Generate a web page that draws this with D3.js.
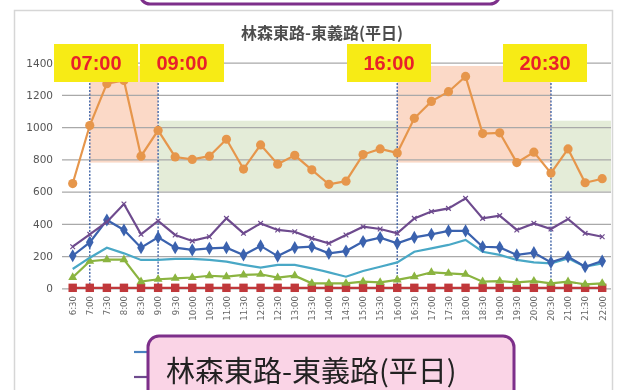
<!DOCTYPE html>
<html>
<head>
<meta charset="utf-8">
<script src="https://cdn.jsdelivr.net/npm/d3@7"></script>
<style>
  html, body { margin: 0; padding: 0; background: #fff; }
  svg { display: block; }
</style>
</head>
<body>
<svg id="chart" width="622" height="390"></svg>
<script>
// Half-hourly time slots, 6:30 through 22:00
const categories = ["6:30","7:00","7:30","8:00","8:30","9:00","9:30","10:00","10:30","11:00","11:30","12:00",
  "12:30","13:00","13:30","14:00","14:30","15:00","15:30","16:00","16:30","17:00","17:30","18:00",
  "18:30","19:00","19:30","20:00","20:30","21:00","21:30","22:00"];

const totalFlow   = [650, 1010, 1270, 1290, 820, 980, 815, 800, 820, 925, 740, 890, 770, 825, 735, 645,
                     665, 830, 865, 840, 1055, 1160, 1220, 1315, 960, 965, 780, 845, 715, 865, 655, 680];
const purpleFlow  = [258, 335, 412, 523, 335, 418, 331, 294, 320, 434, 341, 403, 362, 351, 310, 279,
                     331, 382, 368, 341, 434, 476, 496, 558, 434, 451, 362, 403, 368, 430, 341, 320];
const blueFlow    = [202, 285, 424, 362, 252, 316, 252, 238, 248, 252, 207, 263, 200, 252, 258, 217,
                     231, 290, 314, 279, 316, 335, 356, 356, 258, 254, 207, 221, 161, 196, 134, 169];
const aquaFlow    = [120, 190, 252, 217, 176, 176, 182, 182, 176, 165, 145, 128, 145, 145, 124, 99,
                     72, 107, 134, 161, 227, 248, 269, 300, 227, 207, 176, 161, 155, 186, 134, 155];
const greenFlow   = [68, 168, 178, 178, 41, 56, 62, 67, 78, 72, 83, 87, 66, 78, 31, 31,
                     31, 41, 37, 52, 72, 99, 93, 87, 41, 45, 37, 45, 31, 41, 25, 31];
const redFlow     = [3, 3, 3, 3, 3, 3, 3, 3, 3, 3, 3, 3, 3, 3, 3, 3,
                     3, 3, 3, 3, 3, 3, 3, 3, 3, 3, 3, 3, 3, 3, 3, 3];

const yTicks = [0, 200, 400, 600, 800, 1000, 1200, 1400];

// Peak periods (orange) and off-peak periods (green)
const peakPeriods    = [["7:00", "9:00"], ["16:00", "20:30"]];
const offPeakPeriods = [["9:00", "16:00"], ["20:30", null]];
const peakRange    = [780, 1380];
const offPeakRange = [600, 1040];
const markerTimes  = ["07:00", "09:00", "16:00", "20:30"];
const markerSlots  = ["7:00", "9:00", "16:00", "20:30"];

const svg = d3.select("#chart");

const plotLeft = 62, plotRight = 611;
const x = d3.scalePoint().domain(categories).range([72.7, 602.2]);
const y = d3.scaleLinear().domain([0, 1400]).range([288.3, 62.7]);

// chart frame
svg.append("rect").attr("x", 14.5).attr("y", 10.5).attr("width", 598).attr("height", 420)
  .attr("fill", "#fff").attr("stroke", "#d6d6d6").attr("stroke-width", 1.5);

const defs = svg.append("defs");
defs.append("filter").attr("id", "soft").append("feGaussianBlur").attr("stdDeviation", 0.45);

const g = svg.append("g").attr("filter", "url(#soft)");

// shaded periods
peakPeriods.forEach(([a, b]) => {
  g.append("rect")
    .attr("x", x(a)).attr("width", x(b) - x(a))
    .attr("y", y(peakRange[1])).attr("height", y(peakRange[0]) - y(peakRange[1]))
    .attr("fill", "#fbd9c7");
});
offPeakPeriods.forEach(([a, b]) => {
  const x1 = b ? x(b) : plotRight;
  g.append("rect")
    .attr("x", x(a)).attr("width", x1 - x(a))
    .attr("y", y(offPeakRange[1])).attr("height", y(offPeakRange[0]) - y(offPeakRange[1]))
    .attr("fill", "#e4ecd8");
});

// gridlines
const yAxis = d3.axisLeft(y).tickValues(yTicks).tickSize(-(plotRight - plotLeft)).tickFormat(d3.format("d"));
const ya = g.append("g").attr("transform", `translate(${plotLeft},0)`).call(yAxis);
ya.select(".domain").remove();
ya.selectAll(".tick line").attr("stroke", "#a9a9a9").attr("stroke-width", 1.2);
ya.selectAll(".tick text").attr("x", -9).attr("fill", "#555")
  .style("font-family", "DejaVu Sans, sans-serif").style("font-size", "10.5px");

// x axis labels (rotated)
const xAxis = d3.axisBottom(x).tickSize(0);
const xa = g.append("g").attr("transform", "translate(0,296)").call(xAxis);
xa.select(".domain").remove();
xa.selectAll(".tick text")
  .attr("transform", "rotate(-90)")
  .attr("text-anchor", "end").attr("x", 0).attr("y", 0).attr("dy", "0.33em")
  .attr("fill", "#666")
  .style("font-family", "DejaVu Sans, sans-serif").style("font-size", "8.6px");

// period boundary lines
markerSlots.forEach(s => {
  g.append("line").attr("x1", x(s)).attr("x2", x(s)).attr("y1", 48).attr("y2", 292)
    .attr("stroke", "#4466a8").attr("stroke-width", 1.4).attr("stroke-dasharray", "2,1.5");
});

// series
const series = [
  { values: redFlow,    color: "#c0393b", marker: "square" },
  { values: greenFlow,  color: "#8bb440", marker: "triangle" },
  { values: aquaFlow,   color: "#4aa8c6", marker: "none" },
  { values: blueFlow,   color: "#3a62ae", marker: "diamond" },
  { values: purpleFlow, color: "#6e4b8e", marker: "cross" },
  { values: totalFlow,  color: "#e6964c", marker: "circle" }
];

const line = d3.line().x((d, i) => x(categories[i])).y(d => y(d));

series.forEach(s => {
  g.append("path").datum(s.values).attr("d", line)
    .attr("fill", "none").attr("stroke", s.color).attr("stroke-width", 2.2);
  const pts = g.append("g");
  s.values.forEach((v, i) => {
    const cx = x(categories[i]), cy = y(v);
    if (s.marker === "circle") {
      pts.append("circle").attr("cx", cx).attr("cy", cy).attr("r", 4.6).attr("fill", s.color);
    } else if (s.marker === "square") {
      pts.append("rect").attr("x", cx - 4.2).attr("y", cy - 4.2).attr("width", 8.4).attr("height", 8.4).attr("fill", s.color);
    } else if (s.marker === "diamond") {
      pts.append("path").attr("d", d3.symbol(d3.symbolDiamond, 50)()).attr("transform", `translate(${cx},${cy})`).attr("fill", s.color);
    } else if (s.marker === "triangle") {
      pts.append("path").attr("d", d3.symbol(d3.symbolTriangle, 34)()).attr("transform", `translate(${cx},${cy})`).attr("fill", s.color);
    } else if (s.marker === "cross") {
      pts.append("path").attr("d", d3.symbol(d3.symbolX, 16)()).attr("transform", `translate(${cx},${cy})`)
        .attr("fill", "none").attr("stroke", s.color).attr("stroke-width", 1.2);
    }
  });
});

// chart title
g.append("text").attr("x", 322).attr("y", 39).attr("text-anchor", "middle")
  .attr("fill", "#4d4d4d").style("font-family", "Noto Sans CJK TC, sans-serif")
  .style("font-weight", "bold").style("font-size", "16px").text("林森東路-東義路(平日)");

// legend entries (partly covered by the caption box)
g.append("line").attr("x1", 134).attr("x2", 160).attr("y1", 352).attr("y2", 352)
  .attr("stroke", "#4a82c0").attr("stroke-width", 2.2);
g.append("line").attr("x1", 134).attr("x2", 160).attr("y1", 377).attr("y2", 377)
  .attr("stroke", "#6e4b8e").attr("stroke-width", 2.2);

// time labels
markerTimes.forEach((t, i) => {
  const left = [54, 140, 347, 503][i];
  svg.append("rect").attr("x", left).attr("y", 44).attr("width", 84).attr("height", 38).attr("fill", "#f7eb15");
  svg.append("text").attr("x", left + 42).attr("y", 70).attr("text-anchor", "middle")
    .attr("fill", "#e8212b").style("font-family", "Liberation Sans, Arial, sans-serif")
    .style("font-weight", "bold").style("font-size", "20px").text(t);
});

// top caption box edge
svg.append("rect").attr("x", 140).attr("y", -40).attr("width", 360).attr("height", 44).attr("rx", 10)
  .attr("fill", "#fff").attr("stroke", "#7d2f8a").attr("stroke-width", 3);

// bottom caption box
svg.append("rect").attr("x", 148).attr("y", 336).attr("width", 366).attr("height", 80).attr("rx", 11)
  .attr("fill", "#fad4e6").attr("stroke", "#7d2f8a").attr("stroke-width", 3);
svg.append("text").attr("x", 166).attr("y", 382)
  .attr("fill", "#222").style("font-family", "Noto Sans CJK TC, sans-serif")
  .style("font-size", "29px").text("林森東路-東義路(平日)");
</script>
</body>
</html>
